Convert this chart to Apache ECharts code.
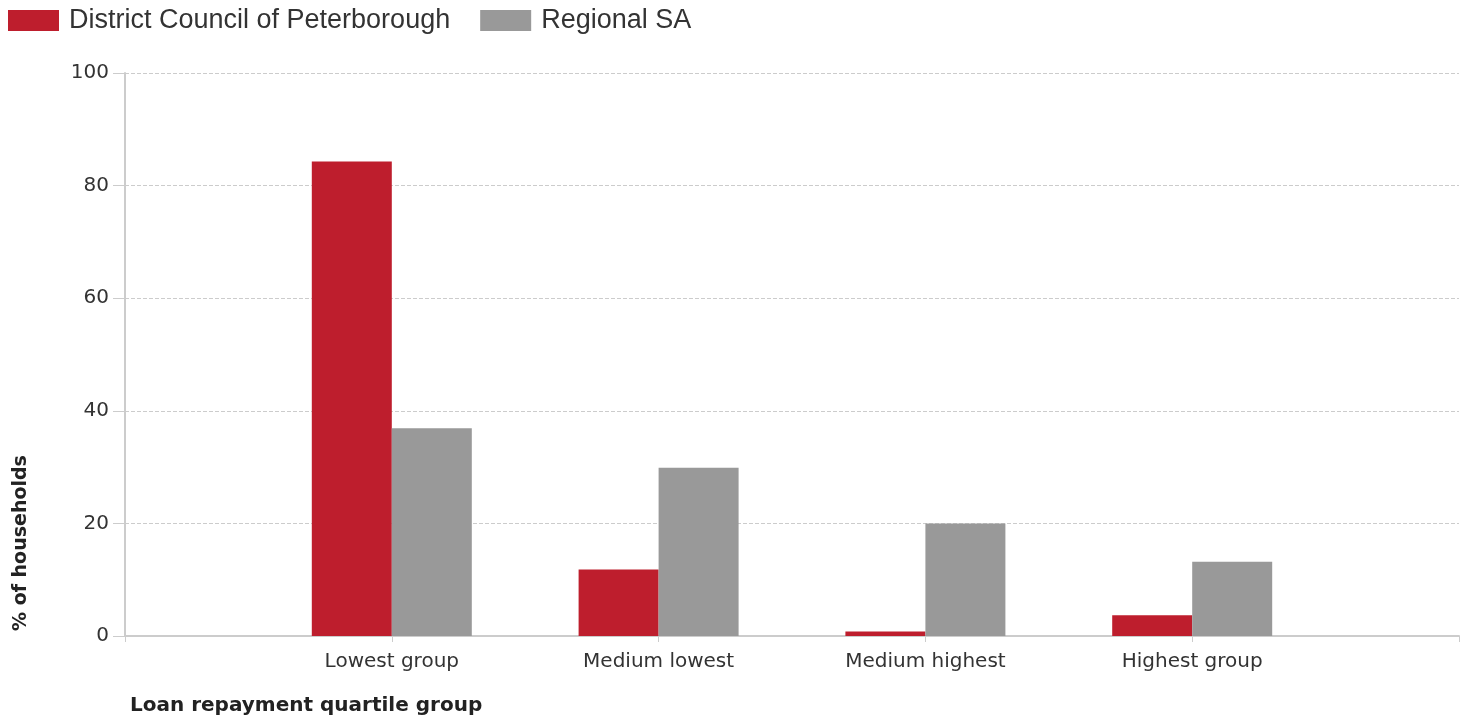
<!DOCTYPE html>
<html>
<head>
<meta charset="utf-8">
<script src="https://cdn.jsdelivr.net/npm/echarts@6/dist/echarts.min.js"></script>
<style>
  html, body { margin: 0; padding: 0; background: #fff; }
  #chart { width: 1466px; height: 724px; }
</style>
</head>
<body>
<div id="chart"></div>
<script>
// blank slots at both ends keep the empty space left and right of the groups
const categories = ['', 'Lowest group', 'Medium lowest', 'Medium highest', 'Highest group', '']
const peterborough = [null, 84.3, 11.8, 0.8, 3.7, null]
const regionalSA = [null, 36.9, 29.9, 20.0, 13.2, null]
const yTicks = { min: 0, max: 100, interval: 20 }

const labelFont = '"DejaVu Sans", Verdana, sans-serif'

const chart = echarts.init(document.getElementById('chart'))

chart.setOption({
  backgroundColor: '#fff',
  animation: false,
  legend: {
    left: 8,
    top: 7,
    padding: 0,
    itemWidth: 51,
    itemHeight: 21,
    itemGap: 30,
    icon: 'rect',
    textStyle: {
      fontFamily: 'Arial, "Liberation Sans", sans-serif',
      fontSize: 27,
      color: '#333',
      padding: [0, 0, 0, 5]
    }
  },
  grid: {
    left: 125,
    right: 7,
    top: 73,
    bottom: 88
  },
  xAxis: {
    type: 'category',
    boundaryGap: false,
    data: categories,
    axisLine: {
      lineStyle: { color: '#ccc', width: 2 }
    },
    axisTick: {
      length: 6,
      lineStyle: { color: '#ccc' }
    },
    axisLabel: {
      color: '#333',
      fontFamily: labelFont,
      fontSize: 20,
      margin: 16
    },
    splitLine: { show: false }
  },
  yAxis: {
    type: 'value',
    min: yTicks.min,
    max: yTicks.max,
    interval: yTicks.interval,
    axisLine: {
      show: true,
      lineStyle: { color: '#ccc', width: 2 }
    },
    axisTick: {
      show: true,
      length: 12,
      lineStyle: { color: '#ccc' }
    },
    axisLabel: {
      color: '#333',
      fontFamily: labelFont,
      fontSize: 20,
      margin: 16
    },
    splitLine: {
      lineStyle: { color: '#ccc', type: 'dashed' }
    }
  },
  graphic: [
    {
      type: 'text',
      left: 130,
      top: 696,
      style: {
        text: 'Loan repayment quartile group',
        font: 'bold 20px "DejaVu Sans", Verdana, sans-serif',
        fill: '#222'
      }
    },
    {
      type: 'text',
      x: 12,
      y: 631,
      rotation: Math.PI / 2,
      style: {
        text: '% of households',
        font: 'bold 19px "DejaVu Sans", Verdana, sans-serif',
        fill: '#222'
      }
    }
  ],
  series: [
    {
      name: 'District Council of Peterborough',
      type: 'bar',
      data: peterborough,
      barWidth: 80,
      barGap: '0%',
      itemStyle: { color: '#be1e2d' }
    },
    {
      name: 'Regional SA',
      type: 'bar',
      data: regionalSA,
      barWidth: 80,
      barGap: '0%',
      itemStyle: { color: '#999999' }
    }
  ]
})
</script>
</body>
</html>
